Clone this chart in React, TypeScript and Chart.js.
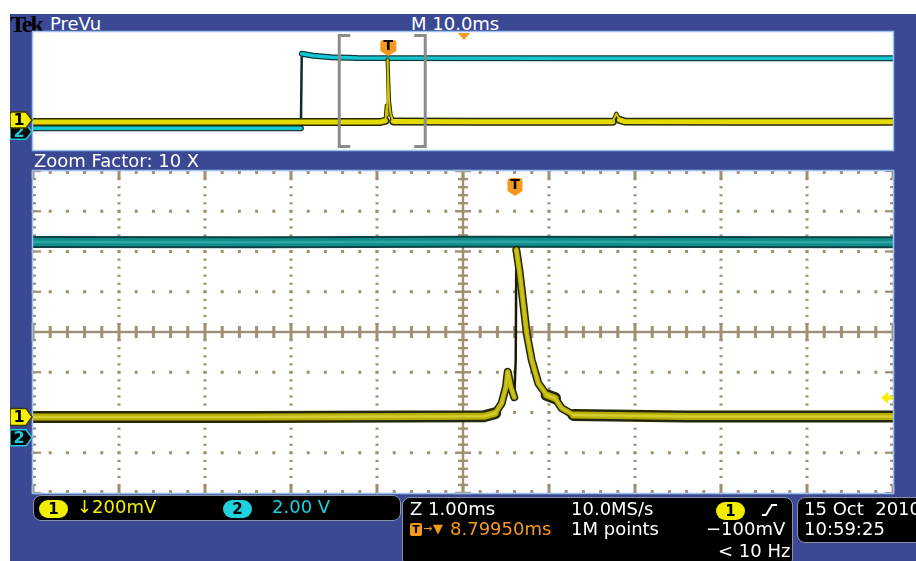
import React, { useEffect, useRef } from "react";
import { Chart, registerables } from "chart.js";

Chart.register(...registerables);

// ---------- scope settings ----------
const CH1_MV_PER_DIV = 200;
const CH1_POSITION_DIV = -2.11;
const CH2_V_PER_DIV = 2;
const CH2_POSITION_DIV = -2.63;
const HALF_V_DIVS = 4;
const HALF_H_DIVS = 5;
const MAIN_MS_PER_DIV = 10;
const ZOOM_MS_PER_DIV = 1;
const HORIZ_DELAY_MS = 8.7995;
const ZOOM_CENTER_MS = -0.593;
const TRIGGER_LEVEL_MV = 95;

// ---------- zoom window (time in ms relative to trigger) ----------
const CH1_ZOOM_T = [-5.6, -3.0, -0.35, -0.22, -0.143, -0.093, -0.073, -0.038, 0.003, 0.02, 0.027, 0.062, 0.108, 0.148, 0.206, 0.283, 0.38, 0.477, 0.555, 0.69, 2.0, 4.5];
const CH1_ZOOM_MV = [0, 0, 3, 18, 68, 151, 225, 151, 98, 283, 830, 730, 564, 415, 283, 167, 109, 93, 43, 10, 2, 2];
const CH2_ZOOM_T = [-5.6, -3.0, -0.5, 2.0, 4.5];
const CH2_ZOOM_V = [9.73, 9.72, 9.74, 9.73, 9.72];

// ---------- preview (full record) ----------
const CH1_PREV_T = [-41.2, -20, -0.8, -0.22, -0.073, 0.003, 0.027, 0.108, 0.206, 0.38, 0.69, 10, 26.2, 26.63, 27.0, 27.6, 40, 58.8];
const CH1_PREV_MV = [0, 0, 3, 18, 225, 98, 850, 564, 283, 109, 10, 5, 5, 115, 30, 8, 5, 5];
const CH2_PREV_T = [-41.2, -10.05, -9.95, -8.6, -6.5, -3.5, 20, 58.8];
const CH2_PREV_V = [0.2, 0.2, 10.3, 10.05, 9.85, 9.72, 9.7, 9.7];

// ---------- look ----------
const BLUE = "#3B4994";
const GRID = "#9E9072";
const PANEL_BORDER = "#9CC0F0";
const FONT = '"DejaVu Sans", sans-serif';

const ch1Min = (-HALF_V_DIVS - CH1_POSITION_DIV) * CH1_MV_PER_DIV;
const ch1Max = (HALF_V_DIVS - CH1_POSITION_DIV) * CH1_MV_PER_DIV;
const ch2Min = (-HALF_V_DIVS - CH2_POSITION_DIV) * CH2_V_PER_DIV;
const ch2Max = (HALF_V_DIVS - CH2_POSITION_DIV) * CH2_V_PER_DIV;

const pts = (t: number[], v: number[]) => t.map((x, i) => ({ x, y: v[i] }));

// 0 = flat, 1 = sloped, 2 = fast rising edge (drawn dim, as on the scope)
function slopeKind(c: any) {
  const dx = Math.abs(c.p1.x - c.p0.x);
  const dy = Math.abs(c.p1.y - c.p0.y);
  const rising = c.p1.y < c.p0.y;
  if (rising && dy > 20 && dy > 12 * dx) return 2;
  if (dy > 1.5 && dy > 0.4 * dx) return 1;
  return 0;
}

type Layer = { colors: string[]; widths: number[] };
function traceLayers(data: any[], yAxisID: string, layers: Layer[]) {
  return layers.map((L) => ({
    data,
    xAxisID: "x",
    yAxisID,
    borderColor: L.colors[0],
    borderWidth: L.widths[0],
    pointRadius: 0,
    pointHitRadius: 0,
    tension: 0,
    clip: 0,
    borderCapStyle: "round",
    borderJoinStyle: "round",
    segment: {
      borderColor: (c: any) => L.colors[slopeKind(c)],
      borderWidth: (c: any) => L.widths[slopeKind(c)],
    },
  }));
}

function scopeScales(center: number, msPerDiv: number) {
  return {
    x: { type: "linear", min: center - HALF_H_DIVS * msPerDiv, max: center + HALF_H_DIVS * msPerDiv, display: false },
    xd: { type: "linear", axis: "x", position: "bottom", min: -HALF_H_DIVS, max: HALF_H_DIVS, display: false },
    y1: { type: "linear", axis: "y", position: "left", min: ch1Min, max: ch1Max, display: false },
    y2: { type: "linear", axis: "y", position: "left", min: ch2Min, max: ch2Max, display: false },
    yd: { type: "linear", axis: "y", position: "left", min: -HALF_V_DIVS, max: HALF_V_DIVS, display: false },
  };
}

const panelPlugin = {
  id: "panel",
  beforeDraw(chart: any) {
    const { ctx, chartArea: a } = chart;
    ctx.save();
    ctx.fillStyle = "#ffffff";
    ctx.fillRect(a.left, a.top, a.right - a.left, a.bottom - a.top);
    ctx.restore();
  },
  afterDraw(chart: any) {
    const { ctx, chartArea: a } = chart;
    ctx.save();
    ctx.strokeStyle = PANEL_BORDER;
    ctx.lineWidth = 1.5;
    ctx.strokeRect(a.left - 0.5, a.top - 0.5, a.right - a.left + 1, a.bottom - a.top + 1);
    ctx.restore();
  },
};

const gridPlugin = {
  id: "scopeGrid",
  beforeDatasetsDraw(chart: any) {
    const { ctx, chartArea: a } = chart;
    const X = (d: number) => chart.scales.xd.getPixelForValue(d);
    const Y = (d: number) => chart.scales.yd.getPixelForValue(d);
    const nx = HALF_H_DIVS * 5;
    const ny = HALF_V_DIVS * 5;
    ctx.save();
    ctx.fillStyle = GRID;
    for (let i = -HALF_H_DIVS + 1; i < HALF_H_DIVS; i++) {
      if (i === 0) continue;
      const px = X(i);
      for (let j = -ny; j <= ny; j++) ctx.fillRect(px - 1.5, Y(j / 5) - 1, 3, 2.2);
    }
    for (let j = -HALF_V_DIVS + 1; j < HALF_V_DIVS; j++) {
      if (j === 0) continue;
      const py = Y(j);
      for (let i = -nx; i <= nx; i++) ctx.fillRect(X(i / 5) - 1.5, py - 1.5, 3, 3);
    }
    const cy = Y(0);
    const cx = X(0);
    ctx.fillRect(a.left, cy - 1.2, a.right - a.left, 2.4);
    ctx.fillRect(cx - 1.2, a.top, 2.4, a.bottom - a.top);
    for (let i = -nx; i <= nx; i++) {
      const len = i % 5 === 0 ? 9 : 6;
      ctx.fillRect(X(i / 5) - 1.5, cy - len, 3, 2 * len);
    }
    for (let j = -ny; j <= ny; j++) {
      const len = j % 5 === 0 ? 8 : 5;
      ctx.fillRect(cx - len, Y(j / 5) - 1.2, 2 * len, 2.4);
    }
    for (let i = -nx; i <= nx; i++) {
      const len = i % 5 === 0 ? 8 : 3;
      const px = X(i / 5);
      ctx.fillRect(px - 1.5, a.top, 3, len);
      ctx.fillRect(px - 1.5, a.bottom - len, 3, len);
    }
    for (let j = -ny; j <= ny; j++) {
      const len = j % 5 === 0 ? 8 : 3;
      const py = Y(j / 5);
      ctx.fillRect(a.left, py - 1.1, len, 2.2);
      ctx.fillRect(a.right - len, py - 1.1, len, 2.2);
    }
    ctx.restore();
  },
};

function drawChMarker(ctx: any, right: number, cy: number, label: string, fill: string, stroke: string, text: string, h: number) {
  const l = right - 22;
  ctx.beginPath();
  ctx.moveTo(l + 2, cy - h / 2);
  ctx.lineTo(right - 6, cy - h / 2);
  ctx.lineTo(right, cy);
  ctx.lineTo(right - 6, cy + h / 2);
  ctx.lineTo(l + 2, cy + h / 2);
  ctx.quadraticCurveTo(l, cy + h / 2, l, cy + h / 2 - 2);
  ctx.lineTo(l, cy - h / 2 + 2);
  ctx.quadraticCurveTo(l, cy - h / 2, l + 2, cy - h / 2);
  ctx.closePath();
  ctx.fillStyle = fill;
  ctx.fill();
  ctx.strokeStyle = stroke;
  ctx.lineWidth = 1.5;
  ctx.stroke();
  ctx.fillStyle = text;
  ctx.font = `bold 16px ${FONT}`;
  ctx.textAlign = "center";
  ctx.textBaseline = "middle";
  ctx.fillText(label, l + 9, cy + 1);
}

function drawTMarker(ctx: any, cx: number, top: number, w: number, h: number) {
  const l = cx - w / 2;
  const r = cx + w / 2;
  const b = top + h;
  ctx.beginPath();
  ctx.moveTo(l + 3, top);
  ctx.lineTo(r - 3, top);
  ctx.quadraticCurveTo(r, top, r, top + 3);
  ctx.lineTo(r, b - 5);
  ctx.lineTo(cx, b);
  ctx.lineTo(l, b - 5);
  ctx.lineTo(l, top + 3);
  ctx.quadraticCurveTo(l, top, l + 3, top);
  ctx.closePath();
  ctx.fillStyle = "#F39A1E";
  ctx.fill();
  ctx.fillStyle = "#000";
  ctx.font = `bold 14px ${FONT}`;
  ctx.textAlign = "center";
  ctx.textBaseline = "middle";
  ctx.fillText("T", cx, top + h / 2 - 1.5);
}

const mainMarkers = {
  id: "mainMarkers",
  afterDraw(chart: any) {
    const { ctx, chartArea: a, scales } = chart;
    ctx.save();
    drawChMarker(ctx, a.left - 1, scales.y2.getPixelForValue(0), "2", "#050505", "#22C8D8", "#22C8D8", 16);
    drawChMarker(ctx, a.left - 1, scales.y1.getPixelForValue(0), "1", "#F6F000", "#3A3A00", "#000", 17);
    drawTMarker(ctx, scales.x.getPixelForValue(0) + 1, a.top + 7, 15, 18);
    const ty = scales.y1.getPixelForValue(TRIGGER_LEVEL_MV);
    const ax = a.right - 12;
    ctx.fillStyle = "#F6F000";
    ctx.beginPath();
    ctx.moveTo(ax, ty);
    ctx.lineTo(ax + 7, ty - 6);
    ctx.lineTo(ax + 7, ty + 6);
    ctx.closePath();
    ctx.fill();
    ctx.fillRect(ax + 6, ty - 2, 6, 4);
    ctx.restore();
  },
};

const previewMarkers = {
  id: "previewMarkers",
  afterDraw(chart: any) {
    const { ctx, chartArea: a, scales } = chart;
    ctx.save();
    // zoom window brackets
    const zl = scales.x.getPixelForValue(ZOOM_CENTER_MS - HALF_H_DIVS * ZOOM_MS_PER_DIV);
    const zr = scales.x.getPixelForValue(ZOOM_CENTER_MS + HALF_H_DIVS * ZOOM_MS_PER_DIV);
    ctx.strokeStyle = "#8C8C8C";
    ctx.lineWidth = 3;
    ctx.beginPath();
    ctx.moveTo(zl + 11, a.top + 3.5);
    ctx.lineTo(zl, a.top + 3.5);
    ctx.lineTo(zl, a.bottom - 3.5);
    ctx.lineTo(zl + 11, a.bottom - 3.5);
    ctx.moveTo(zr - 11, a.top + 3.5);
    ctx.lineTo(zr, a.top + 3.5);
    ctx.lineTo(zr, a.bottom - 3.5);
    ctx.lineTo(zr - 11, a.bottom - 3.5);
    ctx.stroke();
    // horizontal position marker
    const px = scales.x.getPixelForValue(HORIZ_DELAY_MS) + 1;
    ctx.fillStyle = "#F39A1E";
    ctx.beginPath();
    ctx.moveTo(px - 6, a.top + 1);
    ctx.lineTo(px + 6, a.top + 1);
    ctx.lineTo(px, a.top + 8);
    ctx.closePath();
    ctx.fill();
    drawTMarker(ctx, scales.x.getPixelForValue(0) + 1, a.top + 8, 16, 16);
    drawChMarker(ctx, a.left - 1, scales.y2.getPixelForValue(0) + 2, "2", "#050505", "#22C8D8", "#22C8D8", 15);
    drawChMarker(ctx, a.left - 1, scales.y1.getPixelForValue(0) - 2, "1", "#F6F000", "#3A3A00", "#000", 16);
    ctx.restore();
  },
};

const CLEAR = "rgba(0,0,0,0)";

function baseOptions(padding: any, scales: any) {
  return {
    responsive: false,
    animation: false,
    devicePixelRatio: 1,
    events: [],
    layout: { padding },
    plugins: { legend: { display: false }, tooltip: { enabled: false }, title: { display: false } },
    scales,
  };
}

function makeMain(canvas: HTMLCanvasElement) {
  const bottomToTop = [
    ...traceLayers(pts(CH2_ZOOM_T, CH2_ZOOM_V), "y2", [
      { colors: ["#0C4446", "#0C4446", "#0C4446"], widths: [12, 12, 3] },
      { colors: ["#138B8C", "#138B8C", CLEAR], widths: [8, 8, 1] },
      { colors: ["#2AA6A6", "#2AA6A6", CLEAR], widths: [2.5, 2.5, 1] },
    ]),
    ...traceLayers(pts(CH1_ZOOM_T, CH1_ZOOM_MV), "y1", [
      { colors: ["#26260A", "#26260A", "#1A1A05"], widths: [12, 8, 2.5] },
      { colors: ["#B8B000", "#BDB500", CLEAR], widths: [7, 5, 1] },
      { colors: ["#D6CE30", "#D0C830", CLEAR], widths: [2.5, 1.5, 1] },
    ]),
  ];
  return new Chart(canvas, {
    type: "line",
    data: { datasets: bottomToTop.reverse() as any },
    options: baseOptions({ left: 23, right: 23, top: 11, bottom: 7 }, scopeScales(ZOOM_CENTER_MS, ZOOM_MS_PER_DIV)) as any,
    plugins: [panelPlugin, gridPlugin, mainMarkers],
  });
}

function makePreview(canvas: HTMLCanvasElement) {
  const bottomToTop = [
    ...traceLayers(pts(CH2_PREV_T, CH2_PREV_V), "y2", [
      { colors: ["#0E3A3C", "#0E3A3C", "#0E2C2C"], widths: [6, 6, 2.5] },
      { colors: ["#14C6D2", "#14C6D2", CLEAR], widths: [3.5, 3.5, 1] },
    ]),
    ...traceLayers(pts(CH1_PREV_T, CH1_PREV_MV), "y1", [
      { colors: ["#2A2A00", "#2A2A00", "#6A6400"], widths: [8, 4, 2] },
      { colors: ["#E2DA00", "#D0C800", "#C8C000"], widths: [5, 2, 1.5] },
    ]),
  ];
  return new Chart(canvas, {
    type: "line",
    data: { datasets: bottomToTop.reverse() as any },
    options: baseOptions({ left: 23, right: 23, top: 12, bottom: 10 }, scopeScales(HORIZ_DELAY_MS, MAIN_MS_PER_DIV)) as any,
    plugins: [panelPlugin, previewMarkers],
  });
}

const txt = (left: number, top: number, color: string, extra: any = {}): React.CSSProperties => ({
  position: "absolute",
  left,
  top,
  color,
  fontFamily: FONT,
  fontSize: 18,
  lineHeight: "18px",
  whiteSpace: "pre",
  ...extra,
});

const box = (left: number, top: number, width: number, height: number): React.CSSProperties => ({
  position: "absolute",
  left,
  top,
  width,
  height,
  background: "#000",
  border: "1px solid #8A94A8",
  borderRadius: 8,
  boxSizing: "border-box",
});

const pill = (left: number, top: number, bg: string): React.CSSProperties => ({
  position: "absolute",
  left,
  top,
  width: 29,
  height: 18,
  borderRadius: 9,
  background: bg,
  color: "#000",
  fontFamily: FONT,
  fontWeight: "bold",
  fontSize: 15,
  lineHeight: "18px",
  textAlign: "center",
});

export default function App() {
  const mainRef = useRef<HTMLCanvasElement>(null);
  const prevRef = useRef<HTMLCanvasElement>(null);

  useEffect(() => {
    const charts = [makePreview(prevRef.current!), makeMain(mainRef.current!)];
    return () => charts.forEach((c) => c.destroy());
  }, []);

  const WHITE = "#FFFFFF";
  const YEL = "#F4F000";
  const CYAN = "#1CD2E0";
  const ORANGE = "#F49A1A";

  return (
    <div style={{ position: "absolute", left: 0, top: 0, width: 916, height: 561, background: "#fff", overflow: "hidden" }}>
      <div style={{ position: "absolute", left: 10, top: 14, width: 906, height: 547, background: BLUE }} />
      <div style={{ position: "absolute", left: 10, top: 12, fontFamily: '"Liberation Serif", serif', fontWeight: "bold", fontSize: 24, lineHeight: "24px", letterSpacing: -2, color: "#000" }}>Tek</div>
      <div style={txt(50, 15, WHITE)}>PreVu</div>
      <div style={txt(411, 15, WHITE)}>M 10.0ms</div>
      <canvas ref={prevRef} width={906} height={140} style={{ position: "absolute", left: 10, top: 20 }} />
      <div style={txt(34, 151.5, WHITE)}>Zoom Factor: 10 X</div>
      <canvas ref={mainRef} width={906} height={340} style={{ position: "absolute", left: 10, top: 160 }} />

      {/* status box: channels */}
      <div style={box(33, 495, 368, 26)} />
      <div style={pill(39, 500, "#F2EE00")}>1</div>
      <div style={txt(77, 498, YEL)}>↓200mV</div>
      <div style={pill(223, 500, "#20D0DC")}>2</div>
      <div style={txt(272, 498, CYAN)}>2.00 V</div>

      {/* status box: timebase / trigger */}
      <div style={box(402, 497, 391, 70)} />
      <div style={txt(410, 500, WHITE)}>Z 1.00ms</div>
      <div style={txt(571, 500, WHITE)}>10.0MS/s</div>
      <div style={pill(716, 502, "#F2EE00")}>1</div>
      <svg style={{ position: "absolute", left: 760, top: 502 }} width={20} height={16}>
        <polyline points="2,13 6,13 12,3 17,3" fill="none" stroke="#fff" strokeWidth={2} />
      </svg>
      <div style={{ position: "absolute", left: 410, top: 523, width: 12, height: 13, background: ORANGE, borderRadius: 2, color: "#000", fontFamily: FONT, fontWeight: "bold", fontSize: 11, lineHeight: "13px", textAlign: "center" }}>T</div>
      <div style={txt(423, 523, ORANGE, { fontSize: 11, lineHeight: "12px" })}>→</div>
      <div style={txt(433, 522, ORANGE, { fontSize: 13, lineHeight: "13px" })}>▼</div>
      <div style={txt(450, 520, ORANGE)}>8.79950ms</div>
      <div style={txt(571, 520, WHITE)}>1M points</div>
      <div style={txt(706, 520, WHITE)}>−100mV</div>
      <div style={txt(718, 541.5, WHITE)}>&lt; 10 Hz</div>

      {/* status box: date */}
      <div style={box(797, 497, 140, 46)} />
      <div style={txt(804, 500, WHITE)}>15 Oct  2010</div>
      <div style={txt(804, 520, WHITE)}>10:59:25</div>
    </div>
  );
}
